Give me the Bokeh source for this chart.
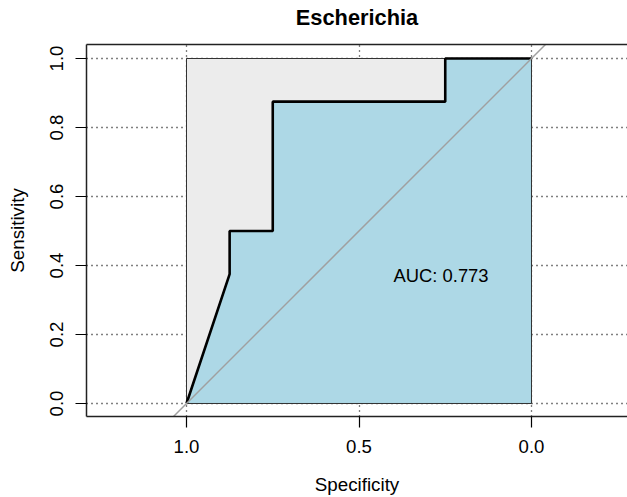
from bokeh.plotting import figure
from bokeh.models import Range1d, FixedTicker, PrintfTickFormatter, LinearAxis, Slope, ColumnDataSource
from bokeh.core.properties import value
from bokeh.embed import file_html
from bokeh.resources import INLINE

# ROC data (Specificity, Sensitivity)
specificity = [1.0, 0.875, 0.875, 0.75, 0.75, 0.25, 0.25, 0.0]
sensitivity = [0.0, 0.375, 0.5, 0.5, 0.875, 0.875, 1.0, 1.0]
auc_text = "AUC: 0.773"
title_text = "Escherichia"
x_ticks = [1.0, 0.5, 0.0]
y_ticks = [0.0, 0.2, 0.4, 0.6, 0.8, 1.0]

FONT = "Liberation Sans"

p = figure(width=627, height=497, output_backend="svg", toolbar_location=None,
           x_range=Range1d(1.2899, -0.2783), y_range=Range1d(-0.0377, 1.0406),
           min_border_left=86, min_border_right=0, min_border_top=44, min_border_bottom=81,
           title=title_text)
p.outline_line_color = None
p.background_fill_color = "white"
p.border_fill_color = "white"

p.title.align = "center"
p.title.vertical_align = "top"
p.title.standoff = 6
p.title.text_font = FONT
p.title.text_font_size = "21.8px"
p.title.text_font_style = "bold"
p.title.text_color = "black"

# grids: dotted
p.xgrid.ticker = FixedTicker(ticks=x_ticks)
p.ygrid.ticker = FixedTicker(ticks=y_ticks)
for g in (p.xgrid, p.ygrid):
    g.grid_line_color = "black"
    g.grid_line_dash = "1 4"
    g.grid_line_width = 1.3

# axes
for ax, ticks in ((p.xaxis[0], x_ticks), (p.yaxis[0], y_ticks)):
    ax.ticker = FixedTicker(ticks=ticks)
    ax.formatter = PrintfTickFormatter(format="%.1f")
    ax.major_tick_out = 11
    ax.major_tick_in = 0
    ax.minor_tick_out = 0
    ax.minor_tick_in = 0
    ax.major_tick_line_color = "black"
    ax.major_tick_line_width = 1.2
    ax.axis_line_color = "#222222"
    ax.axis_line_width = 1.5
    ax.major_label_text_font = FONT
    ax.major_label_text_font_size = "18.6px"
    ax.major_label_text_color = "black"
    ax.axis_label_text_font = FONT
    ax.axis_label_text_font_size = "18.8px"
    ax.axis_label_text_font_style = "normal"
    ax.axis_label_text_color = "black"

p.xaxis.axis_label = "Specificity"
p.yaxis.axis_label = "Sensitivity"
p.yaxis.major_label_orientation = "vertical"
p.xaxis.major_label_standoff = 12
p.yaxis.major_label_standoff = 12
p.xaxis.axis_label_standoff = 18
p.yaxis.axis_label_standoff = 20

# top frame edge: an axis with no ticks; an invisible label spaces the title upward
top_axis = LinearAxis(major_tick_out=0, major_tick_in=0, minor_tick_out=0, minor_tick_in=0,
                      major_tick_line_color=None, minor_tick_line_color=None,
                      major_label_text_font_size="0px", axis_line_color="#222222", axis_line_width=1.5,
                      axis_label=".", axis_label_text_font_size="7px", axis_label_text_color=None,
                      axis_label_standoff=2)
top_axis.ticker = FixedTicker(ticks=[])
p.add_layout(top_axis, "above")

# max AUC polygon (square)
p.patch([1.0, 1.0, 0.0, 0.0], [0.0, 1.0, 1.0, 0.0], fill_color="#ECECEC",
        line_color="#333333", line_width=1)

# AUC polygon
poly_x = specificity + [specificity[-1], specificity[0]]
poly_y = sensitivity + [0.0, 0.0]
p.patch(poly_x, poly_y, fill_color="#ADD8E6", line_color="#333333", line_width=1)

# identity line
p.add_layout(Slope(gradient=-1, y_intercept=1, line_color="#A0A0A0", line_width=1.5, level="glyph"))

# ROC curve
p.line(specificity, sensitivity, line_color="black", line_width=2.6)

# AUC text
src = ColumnDataSource(dict(x=[0.4], y=[0.4], t=[auc_text]))
p.text(x="x", y="y", text="t", source=src, text_align="left", text_baseline="top",
       text_font=value(FONT), text_font_size="18.4px", text_color="black")

open("out.html", "w").write(file_html(p, INLINE))
